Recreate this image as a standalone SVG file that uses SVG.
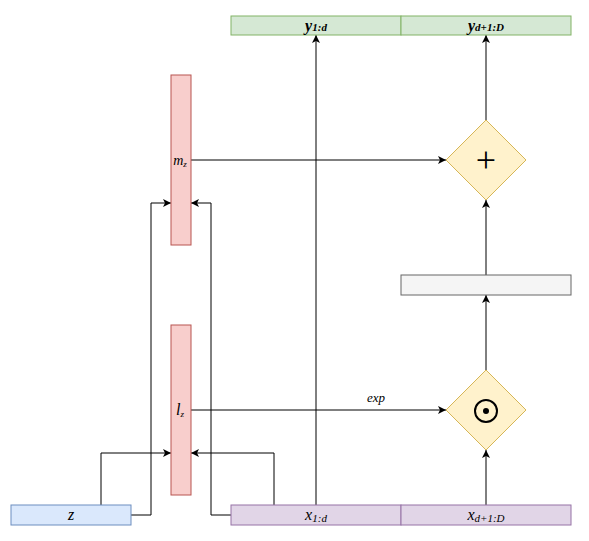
<svg xmlns="http://www.w3.org/2000/svg" width="589" height="541" viewBox="0 0 589 541">
<style>
.g{fill:#d5e8d4;stroke:#82b366}
.r{fill:#f8cecc;stroke:#b85450}
.y{fill:#fff2cc;stroke:#d6b656}
.gr{fill:#f5f5f5;stroke:#666666}
.b{fill:#dae8fc;stroke:#6c8ebf}
.p{fill:#e1d5e7;stroke:#9673a6}
.c{fill:none;stroke:#000;stroke-width:1;marker-end:url(#a)}
.t{font-family:"Liberation Serif","DejaVu Serif",serif;font-style:italic;font-size:16px;text-anchor:middle;fill:#000}
.s{font-size:11px}
</style>
<defs>
<marker id="a" markerWidth="10" markerHeight="10" refX="8" refY="4" orient="auto" markerUnits="userSpaceOnUse">
<path d="M0,0 L8,4 L0,8 L2,4 Z" fill="#000"/>
</marker>
</defs>
<g id="connectors">
<path class="c" d="M316,505 V35"/>
<path class="c" d="M486,505 V450"/>
<path class="c" d="M486,370 V295"/>
<path class="c" d="M486,275 V200"/>
<path class="c" d="M486,120 V35"/>
<path class="c" d="M191,160 H446"/>
<path class="c" d="M191,410 H446"/>
<path class="c" d="M101,505 V453 H171"/>
<path class="c" d="M131,515 H151 V203 H171"/>
<path class="c" d="M231,515 H211 V203 H191"/>
<path class="c" d="M274,505 V453 H191"/>
<text class="t" x="376" y="402" style="font-size:13px">exp</text>
</g>
<g id="y1d"><rect class="g" x="231" y="16" width="170" height="19"/><text class="t" x="316" y="31" style="font-weight:bold">y<tspan class="s">1:d</tspan></text></g>
<g id="yd1D"><rect class="g" x="401" y="16" width="170" height="19"/><text class="t" x="486" y="31" style="font-weight:bold">y<tspan class="s">d+1:D</tspan></text></g>
<g id="mz"><rect class="r" x="171" y="75" width="20" height="170"/><text class="t" x="180" y="165" style="font-size:14px">m<tspan class="s" dy="2" style="font-size:9px">z</tspan></text></g>
<g id="lz"><rect class="r" x="171" y="325" width="20" height="170"/><text class="t" x="180" y="415">l<tspan class="s" dy="2" style="font-size:9px">z</tspan></text></g>
<g id="plus"><path class="y" d="M486,120 L526,160 L486,200 L446,160 Z"/><text x="486" y="172" style="font-family:'Liberation Serif',serif;font-size:36px;text-anchor:middle;fill:#000">+</text></g>
<g id="odot"><path class="y" d="M486,370 L526,410 L486,450 L446,410 Z"/><circle cx="486" cy="411" r="11" fill="none" stroke="#000" stroke-width="2"/><circle cx="486" cy="411" r="3" fill="#000"/></g>
<g id="gray"><rect class="gr" x="401" y="275" width="170" height="20"/></g>
<g id="z"><rect class="b" x="11" y="505" width="120" height="20"/><text class="t" x="71" y="520">z</text></g>
<g id="x1d"><rect class="p" x="231" y="505" width="170" height="20"/><text class="t" x="316" y="520">x<tspan class="s" dy="2">1:d</tspan></text></g>
<g id="xd1D"><rect class="p" x="401" y="505" width="170" height="20"/><text class="t" x="486" y="520">x<tspan class="s" dy="2">d+1:D</tspan></text></g>
</svg>
